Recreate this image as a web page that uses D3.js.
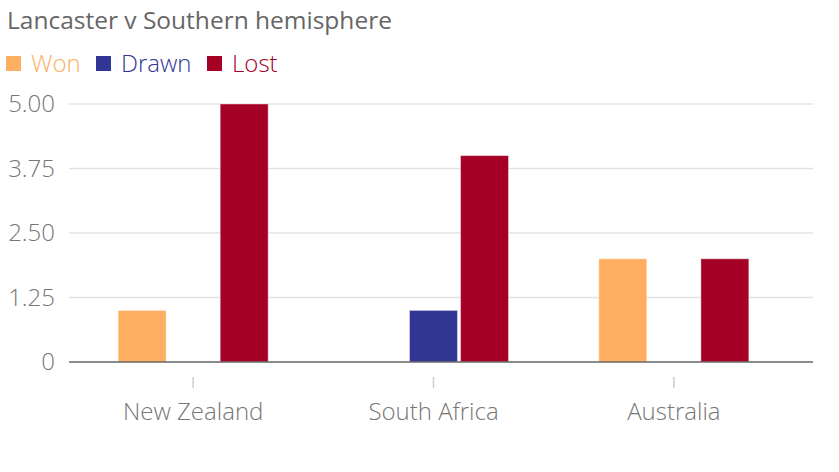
<!DOCTYPE html>
<html>
<head>
<meta charset="utf-8">
<script src="https://cdn.jsdelivr.net/npm/d3@7"></script>
<style>
  body { margin: 0; background: #fff; }
  text { font-family: "Open Sans", sans-serif; }
</style>
</head>
<body>
<svg id="chart" width="839" height="472"></svg>
<script>
// Data
const countries = ["New Zealand", "South Africa", "Australia"];
const seriesNames = ["Won", "Drawn", "Lost"];
const won = [1, 0, 2];
const drawn = [0, 1, 0];
const lost = [5, 4, 2];
const yTicks = [0, 1.25, 2.5, 3.75, 5];
const colors = ["#fdae61", "#313695", "#a50026"];

const values = [won, drawn, lost];

const svg = d3.select("#chart");

// Plot area
const plotLeft = 69, plotRight = 813, plotTop = 104, plotBottom = 362;

const x = d3.scaleBand()
    .domain(countries)
    .range([73, 794]);

const xInner = d3.scaleBand()
    .domain(seriesNames)
    .range([0, 150])
    .paddingInner(0.06);

const y = d3.scaleLinear()
    .domain([0, 5])
    .range([plotBottom, plotTop]);

// Title
svg.append("text")
    .attr("x", 7)
    .attr("y", 29)
    .attr("font-size", 24.5)
    .attr("fill", "#666")
    .text("Lancaster v Southern hemisphere");

// Legend
const legendX = [6, 96, 207];
const legend = svg.append("g");
seriesNames.forEach(function(name, i) {
    legend.append("rect")
        .attr("x", legendX[i])
        .attr("y", 56)
        .attr("width", 15)
        .attr("height", 15)
        .attr("fill", colors[i]);
    legend.append("text")
        .attr("x", legendX[i] + 25)
        .attr("y", 72)
        .attr("font-size", 24)
        .attr("font-weight", 300)
        .attr("fill", colors[i])
        .text(name);
});

// Gridlines
svg.append("g")
    .selectAll("line")
    .data(yTicks.filter(d => d > 0))
    .enter().append("line")
    .attr("x1", plotLeft)
    .attr("x2", plotRight)
    .attr("y1", d => y(d))
    .attr("y2", d => y(d))
    .attr("stroke", "#e3e3e3")
    .attr("stroke-width", 1.5);

// Y axis labels
const yAxis = svg.append("g")
    .attr("transform", "translate(" + plotLeft + ",0)")
    .call(d3.axisLeft(y).tickValues(yTicks).tickSize(0).tickPadding(14)
        .tickFormat(d => d === 0 ? "0" : d3.format(".2f")(d)));
yAxis.select(".domain").remove();
yAxis.selectAll("text")
    .attr("font-size", 24)
    .attr("font-weight", 300)
    .attr("fill", "#777")
    .style("font-family", "'Open Sans', sans-serif");

// Bars
const groups = svg.append("g")
    .selectAll("g")
    .data(countries)
    .enter().append("g")
    .attr("transform", d => "translate(" + (x(d) + x.bandwidth() / 2 - 75) + ",0)");

groups.selectAll("rect")
    .data((d, i) => seriesNames.map((s, j) => ({ series: s, value: values[j][i], color: colors[j] })).filter(b => b.value > 0))
    .enter().append("rect")
    .attr("x", d => xInner(d.series))
    .attr("y", d => y(d.value))
    .attr("width", xInner.bandwidth())
    .attr("height", d => y(0) - y(d.value))
    .attr("fill", d => d.color)
    .attr("stroke", "rgba(255,255,255,0.4)")
    .attr("stroke-width", 1);

// Baseline
svg.append("line")
    .attr("x1", plotLeft)
    .attr("x2", plotRight)
    .attr("y1", y(0))
    .attr("y2", y(0))
    .attr("stroke", "#666")
    .attr("stroke-width", 1.5);

// X axis
const xAxis = svg.append("g")
    .attr("transform", "translate(0," + (plotBottom + 15) + ")")
    .call(d3.axisBottom(x).tickSize(11).tickPadding(15));
xAxis.select(".domain").remove();
xAxis.selectAll("line").attr("stroke", "#ccc").attr("stroke-width", 1.5);
xAxis.selectAll("text")
    .attr("font-size", 24)
    .attr("font-weight", 300)
    .attr("fill", "#777")
    .style("font-family", "'Open Sans', sans-serif");
</script>
</body>
</html>
